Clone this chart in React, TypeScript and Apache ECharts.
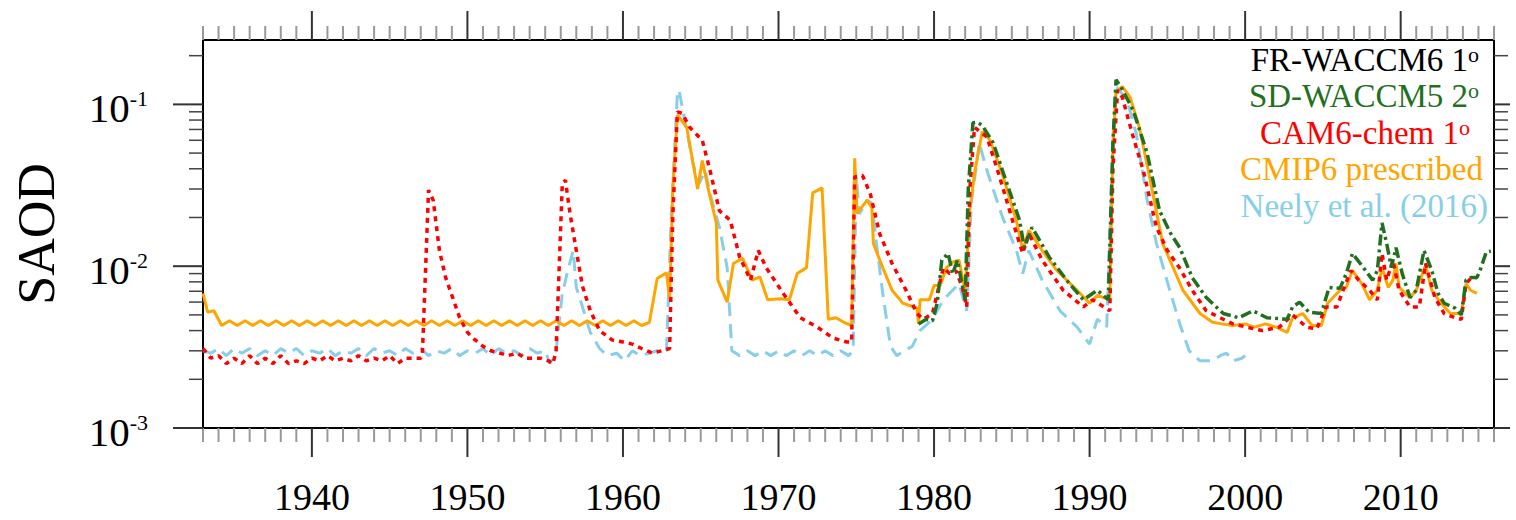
import React, { useEffect, useRef } from 'react';
import * as echarts from 'echarts';

const X_MIN = 1933;
const X_MAX = 2016;
const Y_MIN = 0.001;
const Y_MAX = 0.25;
const xMajorTicks = [1940, 1950, 1960, 1970, 1980, 1990, 2000, 2010];
const yDecades = [0.001, 0.01, 0.1];
const yDecadeExp = ['-3', '-2', '-1'];

const legendNames = ['FR-WACCM6 1', 'SD-WACCM5 2', 'CAM6-chem 1', 'CMIP6 prescribed', 'Neely et al. (2016)'];
const legendSup = ['o', 'o', 'o', '', ''];
const legendColors = ['#000000', '#22701f', '#ff0000', '#ffa500', '#87ceeb'];

// SD-WACCM5 2°
const sdWaccm5: [number, number][] = [
  [1979.0, 0.0044], [1979.5, 0.0047], [1979.9, 0.0046], [1980.2, 0.0059], [1980.5, 0.0109], [1980.9, 0.012],
  [1981.2, 0.009], [1981.5, 0.0109], [1982.0, 0.0062], [1982.2, 0.03], [1982.5, 0.077], [1982.8, 0.0776],
  [1983.1, 0.074], [1983.8, 0.058], [1984.4, 0.039], [1985.5, 0.0192], [1985.8, 0.013], [1986.3, 0.0174],
  [1987.4, 0.0114], [1988.7, 0.0078], [1989.6, 0.0062], [1990.5, 0.0071], [1991.2, 0.0062], [1991.5, 0.058],
  [1991.7, 0.142], [1992.0, 0.129], [1992.8, 0.092], [1993.7, 0.05], [1994.5, 0.022], [1995.2, 0.016],
  [1995.8, 0.013], [1996.6, 0.0085], [1997.5, 0.0064], [1998.6, 0.0051], [1999.6, 0.0048], [2000.5, 0.0053],
  [2001.4, 0.0048], [2002.7, 0.0047], [2003.05, 0.0056], [2003.5, 0.006], [2004.1, 0.0052], [2004.9, 0.0051],
  [2005.4, 0.0074], [2006.1, 0.0073], [2006.5, 0.009], [2006.9, 0.012], [2007.6, 0.0098], [2008.2, 0.0082],
  [2008.5, 0.0094], [2008.8, 0.0185], [2009.1, 0.0138], [2009.4, 0.0098], [2009.7, 0.013], [2010.1, 0.009],
  [2010.6, 0.0064], [2011.0, 0.0071], [2011.5, 0.0125], [2012.0, 0.0094], [2012.4, 0.0068], [2012.8, 0.0059],
  [2013.5, 0.0055], [2013.9, 0.005], [2014.2, 0.0082], [2014.5, 0.0085], [2014.9, 0.0085], [2015.1, 0.0094],
  [2015.5, 0.0122], [2015.8, 0.0124],
];

// CAM6-chem 1°
const cam6Chem: [number, number][] = [
  [1933.0, 0.0031], [1933.5, 0.0027], [1934.0, 0.0028], [1934.5, 0.0025], [1935.0, 0.0027], [1935.5, 0.0025],
  [1936.0, 0.0028], [1936.5, 0.0025], [1937.0, 0.0027], [1937.5, 0.0025], [1938.0, 0.0028], [1938.5, 0.0025],
  [1939.0, 0.0026], [1939.5, 0.0025], [1940.0, 0.0027], [1940.5, 0.0026], [1941.0, 0.0028], [1941.5, 0.0026],
  [1942.0, 0.0027], [1942.5, 0.0026], [1943.0, 0.0028], [1943.5, 0.0026], [1944.0, 0.0027], [1944.5, 0.0026],
  [1945.0, 0.0028], [1945.5, 0.0025], [1946.0, 0.0027], [1946.5, 0.0027], [1947.0, 0.0027], [1947.1, 0.0028],
  [1947.5, 0.0295], [1947.8, 0.0256], [1948.2, 0.0125], [1948.6, 0.0085], [1949.1, 0.0062], [1949.5, 0.0048],
  [1950.0, 0.0039], [1950.5, 0.0035], [1951.0, 0.0032], [1951.5, 0.003], [1952.1, 0.0029], [1952.6, 0.0028],
  [1953.2, 0.0029], [1953.7, 0.0027], [1954.2, 0.0027], [1954.7, 0.0027], [1955.2, 0.0026], [1955.5, 0.0025],
  [1955.7, 0.003], [1956.1, 0.0325], [1956.3, 0.034], [1956.6, 0.021], [1957.0, 0.0125], [1957.4, 0.0075],
  [1957.9, 0.0053], [1958.5, 0.004], [1959.3, 0.0035], [1960.0, 0.0034], [1960.6, 0.0033], [1961.2, 0.0031],
  [1961.9, 0.0029], [1962.5, 0.003], [1963.0, 0.0031], [1963.2, 0.02], [1963.5, 0.09], [1963.8, 0.088],
  [1964.3, 0.072], [1965.1, 0.06], [1965.6, 0.039], [1966.2, 0.022], [1966.9, 0.0192], [1967.5, 0.0114],
  [1968.2, 0.0082], [1968.7, 0.0125], [1969.2, 0.0098], [1970.3, 0.0068], [1971.4, 0.0048], [1972.5, 0.0042],
  [1973.5, 0.0036], [1974.4, 0.0034], [1974.7, 0.0034], [1974.9, 0.0356], [1975.4, 0.0364], [1975.9, 0.028],
  [1976.5, 0.0159], [1977.3, 0.0104], [1978.2, 0.0071], [1978.9, 0.0051], [1979.3, 0.0047], [1979.9, 0.0051],
  [1980.6, 0.0098], [1981.0, 0.009], [1981.4, 0.0094], [1981.8, 0.0075], [1982.1, 0.0056], [1982.3, 0.03],
  [1982.6, 0.072], [1983.4, 0.063], [1984.2, 0.036], [1985.3, 0.0159], [1985.7, 0.012], [1986.1, 0.0159],
  [1986.95, 0.0109], [1988.3, 0.0071], [1989.6, 0.0056], [1990.2, 0.0062], [1991.3, 0.0053], [1991.5, 0.04],
  [1991.8, 0.123], [1992.1, 0.111], [1992.8, 0.063], [1993.45, 0.039], [1994.3, 0.0174], [1995.0, 0.0125],
  [1995.8, 0.0097], [1996.6, 0.0071], [1997.5, 0.0053], [1998.4, 0.0048], [1999.2, 0.0044], [2000.1, 0.0042],
  [2001.1, 0.004], [2002.2, 0.0042], [2003.05, 0.005], [2003.95, 0.0042], [2004.6, 0.0041], [2005.2, 0.0056],
  [2005.9, 0.0056], [2006.3, 0.0071], [2006.8, 0.0094], [2007.3, 0.0082], [2008.0, 0.0071], [2008.5, 0.0062],
  [2008.8, 0.012], [2009.1, 0.0082], [2009.5, 0.0109], [2009.9, 0.0071], [2010.6, 0.0056], [2011.2, 0.0056],
  [2011.6, 0.0104], [2012.2, 0.0064], [2012.8, 0.0051], [2013.5, 0.0048], [2013.9, 0.0047], [2014.2, 0.0078],
  [2014.5, 0.0084], [2014.9, 0.0085],
];

// CMIP6 prescribed
const cmip6: [number, number][] = [
  [1933.0, 0.0068], [1933.3, 0.0052], [1933.7, 0.0053], [1934.2, 0.0043],
  [1934.7, 0.0046], [1935.2, 0.0043], [1935.7, 0.0046], [1936.2, 0.0043], [1936.7, 0.0046], [1937.2, 0.0043],
  [1937.7, 0.0046], [1938.2, 0.0043], [1938.7, 0.0046], [1939.2, 0.0043], [1939.7, 0.0046], [1940.2, 0.0043],
  [1940.7, 0.0046], [1941.2, 0.0043], [1941.7, 0.0046], [1942.2, 0.0043], [1942.7, 0.0046], [1943.2, 0.0043],
  [1943.7, 0.0046], [1944.2, 0.0043], [1944.7, 0.0046], [1945.2, 0.0043], [1945.7, 0.0046], [1946.2, 0.0043],
  [1946.7, 0.0046], [1947.2, 0.0043], [1947.7, 0.0046], [1948.2, 0.0043], [1948.7, 0.0046], [1949.2, 0.0043],
  [1949.7, 0.0046], [1950.2, 0.0043], [1950.7, 0.0046], [1951.2, 0.0043], [1951.7, 0.0046], [1952.2, 0.0043],
  [1952.7, 0.0046], [1953.2, 0.0043], [1953.7, 0.0046], [1954.2, 0.0043], [1954.7, 0.0046], [1955.2, 0.0043],
  [1955.7, 0.0046], [1956.2, 0.0043], [1956.7, 0.0046], [1957.2, 0.0043], [1957.7, 0.0046], [1958.2, 0.0043],
  [1958.7, 0.0046], [1959.2, 0.0043], [1959.7, 0.0046], [1960.2, 0.0043], [1960.7, 0.0046], [1961.2, 0.0043],
  [1961.7, 0.0045], [1962.2, 0.0084], [1962.8, 0.0091], [1963.0, 0.0062], [1963.2, 0.03], [1963.5, 0.086],
  [1964.1, 0.072], [1964.8, 0.03], [1965.1, 0.045], [1965.5, 0.0295], [1966.0, 0.0185], [1966.1, 0.0082],
  [1966.7, 0.006], [1967.1, 0.0104], [1967.7, 0.0112], [1968.3, 0.0082], [1968.8, 0.0086], [1969.3, 0.0062],
  [1970.1, 0.0063], [1970.7, 0.0062], [1971.2, 0.009], [1971.8, 0.0098], [1972.2, 0.0284], [1972.8, 0.0305],
  [1973.2, 0.0047], [1973.7, 0.0048], [1974.2, 0.0045], [1974.7, 0.0043], [1974.9, 0.0465], [1975.05, 0.0212],
  [1975.7, 0.0256], [1976.0, 0.023], [1976.1, 0.0138], [1976.7, 0.0098], [1977.3, 0.0071], [1978.0, 0.0059],
  [1978.9, 0.0055], [1979.0, 0.0044], [1979.1, 0.0062], [1979.7, 0.0062], [1980.0, 0.0076], [1980.4, 0.0076],
  [1980.8, 0.0098], [1981.2, 0.0106], [1981.6, 0.0109], [1982.0, 0.0071], [1982.3, 0.0222], [1982.6, 0.0376],
  [1983.1, 0.068], [1983.6, 0.06], [1984.4, 0.037], [1985.3, 0.019], [1985.7, 0.0125], [1986.1, 0.0167],
  [1986.95, 0.0125], [1987.9, 0.0094], [1989.2, 0.0071], [1990.0, 0.0059], [1990.5, 0.0066], [1991.3, 0.0062],
  [1991.5, 0.058], [1991.7, 0.118], [1992.1, 0.129], [1992.6, 0.111], [1993.2, 0.072], [1993.9, 0.034],
  [1994.7, 0.0138], [1996.0, 0.0071], [1997.1, 0.0051], [1997.9, 0.0045], [1998.5, 0.0044], [1999.2, 0.0043],
  [2000.0, 0.0044], [2000.6, 0.0042], [2001.3, 0.0044], [2002.0, 0.0042], [2002.7, 0.0039], [2003.05, 0.0048],
  [2003.7, 0.0051], [2004.3, 0.0043], [2004.9, 0.0043], [2005.3, 0.0059], [2006.1, 0.0071], [2006.5, 0.0074],
  [2006.9, 0.0094], [2007.5, 0.0078], [2008.0, 0.0062], [2008.5, 0.0071], [2008.8, 0.0098], [2009.2, 0.0074],
  [2009.5, 0.0082], [2009.7, 0.0104], [2009.9, 0.0074], [2010.6, 0.0064], [2011.0, 0.0071], [2011.6, 0.0101],
  [2012.0, 0.0071], [2012.6, 0.0059], [2013.2, 0.0051], [2013.9, 0.0051], [2014.2, 0.0078], [2014.5, 0.0071],
  [2014.9, 0.0068],
];

// Neely et al. (2016)
const neely: [number, number][] = [
  [1933.0, 0.003], [1933.5, 0.0029], [1934.0, 0.0031], [1934.5, 0.0028], [1935.0, 0.0031], [1935.5, 0.0029],
  [1936.0, 0.0031], [1936.5, 0.0028], [1937.0, 0.003], [1937.5, 0.0028], [1938.0, 0.0031], [1938.5, 0.0029],
  [1939.0, 0.0031], [1939.5, 0.0028], [1940.0, 0.003], [1940.5, 0.0029], [1941.0, 0.0031], [1941.5, 0.0028],
  [1942.0, 0.003], [1942.5, 0.0029], [1943.0, 0.0031], [1943.5, 0.0028], [1944.0, 0.0031], [1944.5, 0.0029],
  [1945.0, 0.003], [1945.5, 0.0028], [1946.0, 0.0031], [1946.5, 0.0029], [1947.0, 0.0031], [1947.5, 0.0028],
  [1948.0, 0.003], [1948.5, 0.0029], [1949.0, 0.0031], [1949.5, 0.0028], [1950.0, 0.003], [1950.5, 0.0029],
  [1951.0, 0.0031], [1951.5, 0.0028], [1952.0, 0.0031], [1952.5, 0.0029], [1953.0, 0.003], [1953.5, 0.0028],
  [1954.0, 0.0031], [1954.5, 0.0029], [1955.0, 0.003], [1955.3, 0.0025], [1955.7, 0.003], [1956.1, 0.0068],
  [1956.5, 0.0098], [1956.8, 0.0125], [1957.0, 0.0074], [1957.4, 0.0056], [1957.9, 0.0039], [1958.5, 0.0031],
  [1959.0, 0.0028], [1959.6, 0.0029], [1960.1, 0.0026], [1960.6, 0.003], [1961.1, 0.0028], [1961.7, 0.0029],
  [1962.2, 0.003], [1962.8, 0.003], [1963.1, 0.02], [1963.5, 0.118], [1963.6, 0.123], [1964.1, 0.069],
  [1964.5, 0.043], [1964.9, 0.0325], [1965.3, 0.039], [1965.6, 0.028], [1966.2, 0.0174], [1966.7, 0.0098],
  [1967.0, 0.003], [1967.5, 0.0028], [1968.0, 0.003], [1968.5, 0.0028], [1969.0, 0.003], [1969.5, 0.0028],
  [1970.0, 0.003], [1970.5, 0.0028], [1971.0, 0.003], [1971.5, 0.0028], [1972.0, 0.003], [1972.5, 0.0028],
  [1973.0, 0.003], [1973.5, 0.0028], [1974.0, 0.003], [1974.5, 0.0028], [1974.8, 0.003], [1975.0, 0.0356],
  [1975.2, 0.021], [1975.7, 0.0256], [1976.0, 0.0245], [1976.3, 0.0138], [1976.7, 0.0068], [1977.2, 0.0032],
  [1977.6, 0.0028], [1978.1, 0.003], [1978.6, 0.0032], [1979.1, 0.004], [1979.9, 0.0047], [1980.6, 0.0062],
  [1981.2, 0.0071], [1981.6, 0.0078], [1982.1, 0.0053], [1982.4, 0.025], [1982.7, 0.04], [1982.9, 0.058],
  [1983.4, 0.039], [1984.4, 0.0201], [1985.3, 0.0125], [1985.7, 0.009], [1986.1, 0.0125], [1986.95, 0.0082],
  [1988.1, 0.0053], [1989.2, 0.0042], [1990.0, 0.0033], [1990.5, 0.0047], [1991.1, 0.0042], [1991.4, 0.03],
  [1991.7, 0.129], [1992.4, 0.107], [1993.0, 0.066], [1993.7, 0.0256], [1994.3, 0.0138], [1995.1, 0.0074],
  [1995.8, 0.0044], [1996.4, 0.003], [1997.1, 0.0026], [1997.9, 0.0026], [1998.4, 0.0028], [1998.8, 0.0029],
  [1999.2, 0.0026], [1999.8, 0.0027], [2000.0, 0.0028],
];

const SERIF = 'Liberation Serif';

export default function App() {
  const ref = useRef<HTMLDivElement>(null);

  useEffect(() => {
    if (!ref.current) return;
    const chart = echarts.init(ref.current, null, { renderer: 'svg' });
    chart.setOption({
      animation: false,
      backgroundColor: '#ffffff',
      grid: {
        left: 203, top: 40, width: 1291, height: 388,
        show: true, borderColor: '#000', borderWidth: 2, backgroundColor: 'transparent',
      },
      xAxis: {
        type: 'value', min: X_MIN, max: X_MAX,
        axisLine: { show: false }, axisTick: { show: false }, splitLine: { show: false },
        axisLabel: {
          customValues: xMajorTicks,
          formatter: (v: number) => String(v),
          fontFamily: SERIF, fontSize: 38, lineHeight: 28, color: '#000', margin: 55,
        },
      },
      yAxis: {
        type: 'log', logBase: 10, min: Y_MIN, max: Y_MAX,
        axisLine: { show: false }, axisTick: { show: false },
        axisLabel: { show: false }, splitLine: { show: false },
      },
      series: [
        {
          name: 'Neely et al. (2016)', type: 'line', data: neely, showSymbol: false,
          lineStyle: { color: legendColors[4], width: 3, type: [14, 8] }, z: 2,
        },
        {
          name: 'CMIP6 prescribed', type: 'line', data: cmip6, showSymbol: false,
          lineStyle: { color: legendColors[3], width: 3 }, z: 3,
        },
        {
          name: 'CAM6-chem 1°', type: 'line', data: cam6Chem, showSymbol: false,
          lineStyle: { color: legendColors[2], width: 3.5, type: [5, 5] }, z: 4,
        },
        {
          name: 'SD-WACCM5 2°', type: 'line', data: sdWaccm5, showSymbol: false,
          lineStyle: { color: legendColors[1], width: 3.5, type: [11, 4, 3, 4] }, z: 5,
        },
      ],
    });

    const px = (x: number) => chart.convertToPixel({ xAxisIndex: 0 }, x) as number;
    const py = (y: number) => chart.convertToPixel({ yAxisIndex: 0 }, y) as number;
    const left = px(X_MIN);
    const right = px(X_MAX);
    const top = py(Y_MAX);
    const bottom = py(Y_MIN);

    const g: any[] = [];
    const line = (x1: number, y1: number, x2: number, y2: number, stroke: string, w: number) =>
      g.push({ type: 'line', silent: true, z: 10, shape: { x1, y1, x2, y2 }, style: { stroke, lineWidth: w } });

    for (let yr = X_MIN; yr <= X_MAX; yr++) {
      const x = px(yr);
      const major = yr % 10 === 0;
      const len = major ? 29 : 14;
      const col = major ? '#333' : '#999';
      line(x, bottom, x, bottom + len, col, 2);
      line(x, top, x, top - len, col, 2);
    }
    const yTicks: number[] = [];
    yDecades.forEach((d) => {
      for (let k = 1; k <= 9; k++) {
        const v = d * k;
        if (v <= Y_MAX + 1e-9) yTicks.push(v);
      }
    });
    yTicks.forEach((v, i) => {
      const y = py(v);
      const major = i % 9 === 0;
      line(left, y, left - (major ? 30 : 14), y, major ? '#333' : '#444', major ? 2 : 1.5);
      line(right, y, right + (major ? 16 : 14), y, major ? '#333' : '#444', major ? 2 : 1.5);
    });

    yDecades.forEach((d, i) => {
      g.push({
        type: 'text', silent: true, x: 148, y: py(d) + 4,
        style: {
          text: `{a|10}{b|${yDecadeExp[i]}}`,
          fontFamily: SERIF, fontSize: 41, fill: '#000',
          align: 'right', verticalAlign: 'middle',
          rich: {
            a: { fontFamily: SERIF, fontSize: 41, lineHeight: 41, fill: '#000' },
            b: { fontFamily: SERIF, fontSize: 22, lineHeight: 28, fill: '#000', verticalAlign: 'top' },
          },
        },
      });
    });

    g.push({
      type: 'text', silent: true, x: 36, y: 234, rotation: Math.PI / 2,
      style: { text: 'SAOD', fontFamily: SERIF, fontSize: 52, fill: '#000', align: 'center', verticalAlign: 'middle' },
    });

    const legendY = [59.5, 96, 132.5, 169, 205.5];
    const legendRight = [1479, 1479, 1470, 1483, 1488];
    legendNames.forEach((name, i) => {
      const sup = legendSup[i];
      g.push({
        type: 'text', silent: true, x: legendRight[i], y: legendY[i], z: 20,
        style: {
          text: sup ? `{a|${name}}{s|${sup}}` : `{a|${name}}`,
          fontFamily: SERIF, fontSize: 33, fill: legendColors[i],
          align: 'right', verticalAlign: 'middle',
          rich: {
            a: { fontFamily: SERIF, fontSize: 33, lineHeight: 33, fill: legendColors[i] },
            s: { fontFamily: SERIF, fontSize: 22, lineHeight: 16, fill: legendColors[i], verticalAlign: 'top' },
          },
        },
      });
    });

    chart.setOption({ graphic: g });

    return () => chart.dispose();
  }, []);

  return (
    <div
      ref={ref}
      style={{ position: 'fixed', left: 0, top: 0, width: 1516, height: 520, background: '#fff' }}
    />
  );
}
